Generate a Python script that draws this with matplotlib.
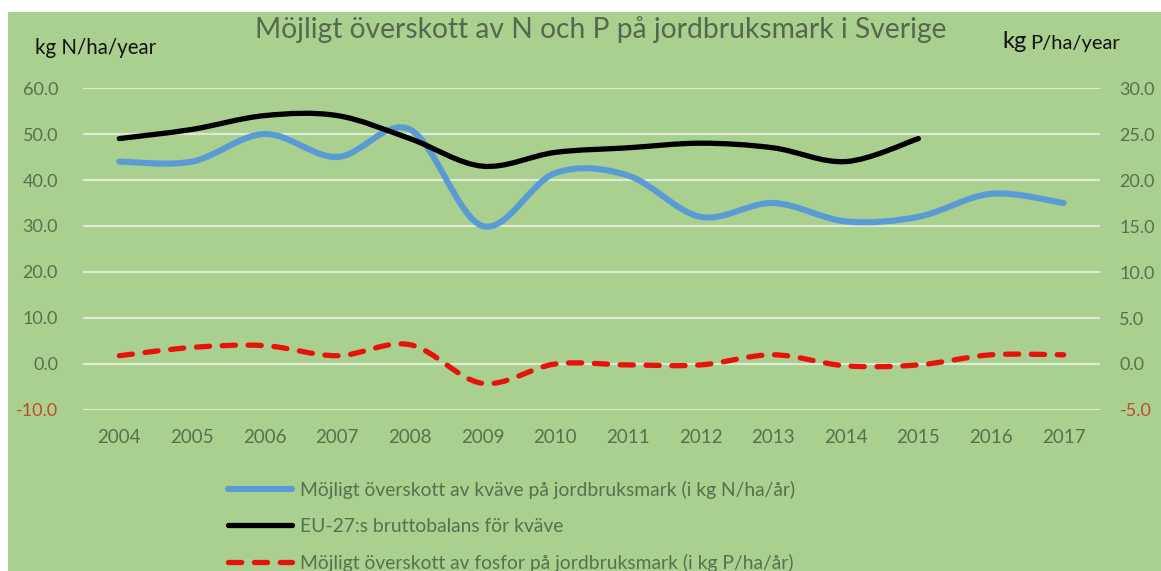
import numpy as np
import matplotlib
matplotlib.use("Agg")
import matplotlib.pyplot as plt
from matplotlib.path import Path
from matplotlib.patches import PathPatch, Rectangle
from matplotlib.lines import Line2D

# ------------------------------------------------------------
# Data
# ------------------------------------------------------------
years = ["2004", "2005", "2006", "2007", "2008", "2009", "2010",
         "2011", "2012", "2013", "2014", "2015", "2016", "2017"]

# kg N/ha/year (left axis)
kvave = [44, 44, 50, 45, 51, 30, 41.5, 41, 32, 35, 31, 32, 37, 35]
eu27 = [49, 51, 54, 54, 49, 43, 46, 47, 48, 47, 44, 49]

# kg P/ha/year (right axis)
fosfor = [0.9, 1.8, 2.0, 0.9, 2.1, -2.1, 0.0, -0.1, -0.1, 1.0, -0.2, -0.1, 1.0, 1.0]

lbl_kvave = "Möjligt överskott av kväve på jordbruksmark (i kg N/ha/år)"
lbl_eu = "EU-27:s bruttobalans för kväve"
lbl_fosfor = "Möjligt överskott av fosfor på jordbruksmark (i kg P/ha/år)"
title = "Möjligt överskott av N och P på jordbruksmark i Sverige"

# ------------------------------------------------------------
# Style
# ------------------------------------------------------------
bg = "#A9D08E"
txt = "#587050"
neg = "#C24A2C"
grid_c = "#DDEBD3"
FONT = ["Lato", "DejaVu Sans"]
plt.rcParams["font.family"] = FONT


def smooth_path(xs, ys):
    # Excel-style smoothed line: cubic bezier through each point
    pts = np.column_stack([xs, ys]).astype(float)
    verts = [pts[0]]
    codes = [Path.MOVETO]
    n = len(pts)
    for i in range(n - 1):
        p0 = pts[max(i - 1, 0)]
        p1 = pts[i]
        p2 = pts[i + 1]
        p3 = pts[min(i + 2, n - 1)]
        c1 = p1 + (p2 - p0) / 6.0
        c2 = p2 - (p3 - p1) / 6.0
        verts += [c1, c2, p2]
        codes += [Path.CURVE4] * 3
    return Path(verts, codes)


W, H = 1161, 571
fig = plt.figure(figsize=(W / 100, H / 100), dpi=100)
fig.patch.set_facecolor("white")
fig.patches.append(Rectangle((8 / W, 0), 1, 1 - 12 / H, transform=fig.transFigure,
                             facecolor=bg, edgecolor="none", zorder=-10))

ax = fig.add_axes([83 / W, (H - 410) / H, (1100 - 83) / W, (410 - 88) / H])
ax.set_facecolor("none")
ax2 = ax.twinx()

x = np.arange(len(years))

ax.set_xlim(-0.5, len(years) - 0.5)
ax.set_ylim(-10, 60)
ax2.set_ylim(-5, 30)
ax.set_yticks(np.arange(-10, 61, 10))
ax2.set_yticks(np.arange(-5, 31, 5))
ax.set_xticks(x)
ax.set_xticklabels(years)

for a in (ax, ax2):
    for s in a.spines.values():
        s.set_visible(False)
    a.tick_params(length=0, labelsize=13, colors=txt)

ax.tick_params(axis="x", labelsize=13.5, pad=14)
ax.tick_params(axis="y", pad=18)
ax2.tick_params(axis="y", pad=14)
ax.set_yticklabels([f"{v:.1f}" for v in ax.get_yticks()])
ax2.set_yticklabels([f"{v:.1f}" for v in ax2.get_yticks()])
for t, v in zip(ax.get_yticklabels(), ax.get_yticks()):
    if v < 0:
        t.set_color(neg)
for t, v in zip(ax2.get_yticklabels(), ax2.get_yticks()):
    if v < 0:
        t.set_color(neg)

ax.yaxis.grid(True, color=grid_c, linewidth=1.6)
ax.set_axisbelow(True)

# lines
p_blue = PathPatch(smooth_path(x, kvave), fill=False, edgecolor="#5B9BD5",
                   linewidth=4.4, capstyle="round", joinstyle="round", zorder=3)
p_black = PathPatch(smooth_path(x[:len(eu27)], eu27), fill=False, edgecolor="black",
                    linewidth=3.8, capstyle="round", joinstyle="round", zorder=4)
ax.add_patch(p_blue)
ax.add_patch(p_black)
p_red = PathPatch(smooth_path(x, fosfor), fill=False, edgecolor="#E8120C",
                  linewidth=3.8, linestyle=(0, (2.5, 2.4)), capstyle="round",
                  joinstyle="round", zorder=5)
ax2.add_patch(p_red)

# titles
fig.text(601 / W, 1 - 30 / H, title, ha="center", va="center", fontsize=20.3, color="#56684F")
fig.text(35 / W, 1 - 48 / H, "kg N/ha/year", ha="left", va="center", fontsize=14.8, color="#111111")
fig.text(1002 / W, 1 - 42 / H, "kg", ha="left", va="center", fontsize=17, color="#111111")
fig.text(1030 / W, 1 - 43 / H, "P/ha/year", ha="left", va="center", fontsize=14.5, color="#111111")

# legend
handles = [Line2D([], [], color="#5B9BD5", lw=4.4, solid_capstyle="round"),
           Line2D([], [], color="black", lw=3.8, solid_capstyle="round"),
           Line2D([], [], color="#E8120C", lw=3.8, linestyle=(0, (2.5, 2.4)),
                  dash_capstyle="round")]
leg = fig.legend(handles, [lbl_kvave, lbl_eu, lbl_fosfor], loc="upper left",
                 bbox_to_anchor=(228 / W, 1 - 481 / H), frameon=False, fontsize=13.9,
                 handlelength=3.3, handletextpad=0.42, labelspacing=0.97,
                 borderpad=0, borderaxespad=0)
for t in leg.get_texts():
    t.set_color(txt)

fig.savefig("out.png", dpi=100)
